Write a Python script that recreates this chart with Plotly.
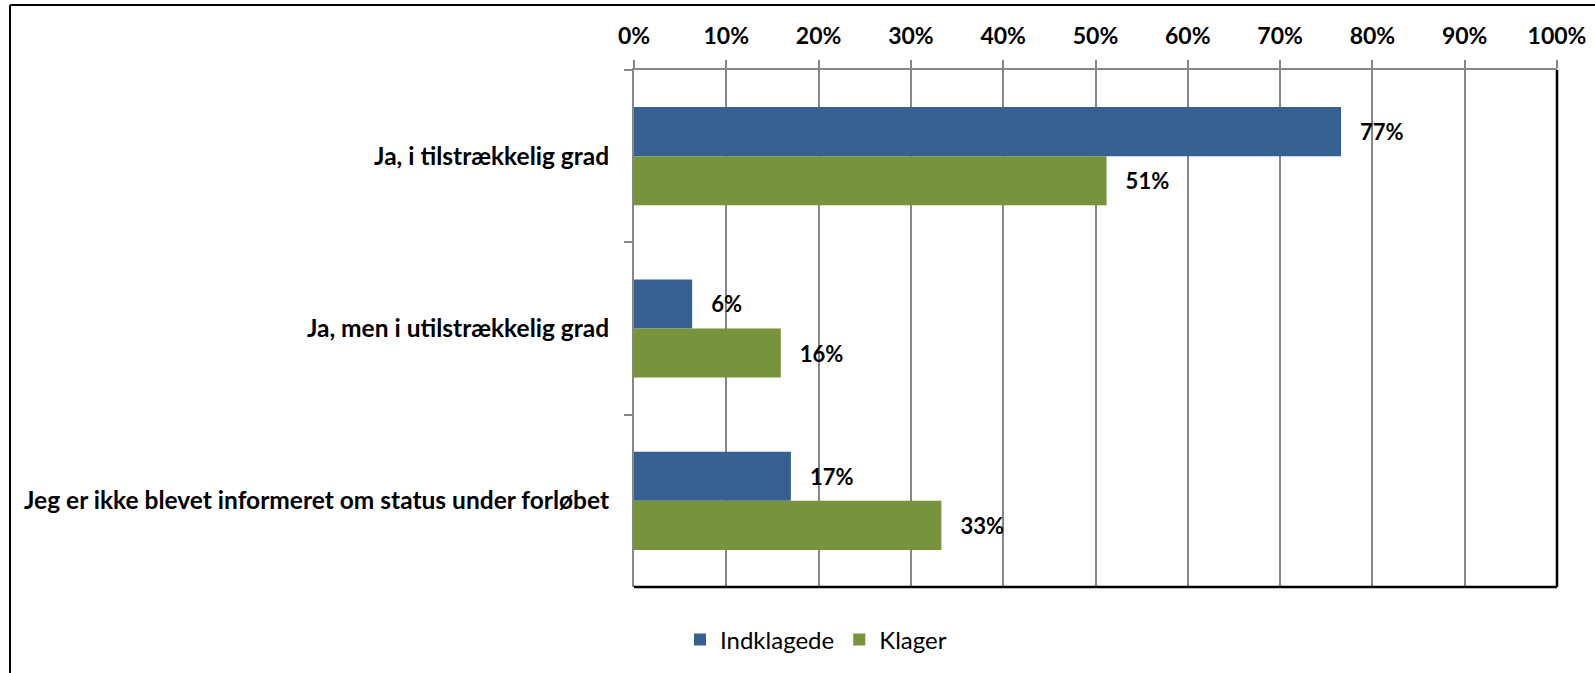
import plotly.graph_objects as go

categories = ["Ja, i tilstrækkelig grad", "Ja, men i utilstrækkelig grad",
              "Jeg er ikke blevet informeret om status under forløbet"]
indklagede = [0.766, 0.063, 0.170]
klager = [0.512, 0.159, 0.333]
series_names = ["Indklagede", "Klager"]
colors = ["#366092", "#77933C"]

W, H = 1595, 673
L, R, T, B = 634, 38, 70, 86
pw, ph = W - L - R, H - T - B

FONT = "Lato"
fig = go.Figure()
for name, vals, col in zip(series_names, [indklagede, klager], colors):
    fig.add_trace(go.Bar(
        y=categories, x=vals, name=name, orientation="h",
        marker=dict(color=col, line=dict(width=0)),
        texttemplate="\u00a0\u00a0\u00a0%{x:.0%}", textposition="outside",
        textfont=dict(family=FONT, size=22, color="black", weight="bold"),
        cliponaxis=False,
    ))

fig.update_layout(
    width=W, height=H, barmode="group", bargap=0.43, bargroupgap=0,
    margin=dict(l=L, r=R, t=T, b=B, autoexpand=False),
    paper_bgcolor="white", plot_bgcolor="white",
    font=dict(family=FONT, size=22, color="black"),
    xaxis=dict(side="top", range=[0, 1], dtick=0.1, tick0=0, tickformat=".0%",
               showgrid=True, gridcolor="#868686", gridwidth=1.5,
               showline=True, linecolor="#868686", linewidth=2,
               ticks="outside", ticklen=8, tickcolor="#868686", tickwidth=1.5,
               tickfont=dict(family=FONT, size=23, color="black", weight="bold"),
               ticklabelstandoff=7, zeroline=False, automargin=False),
    yaxis=dict(autorange="reversed", showline=True, linecolor="#868686", linewidth=2,
               ticks="outside", ticklen=8, tickcolor="#868686", tickwidth=1.5,
               tickson="boundaries", showgrid=False, automargin=False,
               tickfont=dict(family=FONT, size=24.5, color="black", weight="bold"),
               ticklabelstandoff=18),
    legend=dict(orientation="h", x=(816 - L) / pw, xanchor="center",
                y=-(640 - (T + ph)) / ph, yanchor="middle",
                font=dict(family=FONT, size=24, color="black"),
                itemwidth=30, traceorder="normal"),
    showlegend=True,
)

# black right & bottom plot edges
fig.add_shape(type="line", xref="x domain", yref="y domain", x0=1, x1=1, y0=0, y1=1,
              line=dict(color="black", width=2.5))
fig.add_shape(type="line", xref="x domain", yref="y domain", x0=0, x1=1, y0=0, y1=0,
              line=dict(color="black", width=2.5))
# outer chart frame (top and left)
fig.add_shape(type="line", xref="paper", yref="paper",
              x0=(10 - L) / pw, x1=(W - L) / pw, y0=1 + (T - 5) / ph, y1=1 + (T - 5) / ph,
              line=dict(color="black", width=2))
fig.add_shape(type="line", xref="paper", yref="paper",
              x0=(10 - L) / pw, x1=(10 - L) / pw, y0=1 + (T - 5) / ph, y1=-B / ph,
              line=dict(color="black", width=2))

fig.write_html("out.html", config={"displayModeBar": False},
               post_script="document.body.style.margin='0';document.body.style.overflow='hidden';")
